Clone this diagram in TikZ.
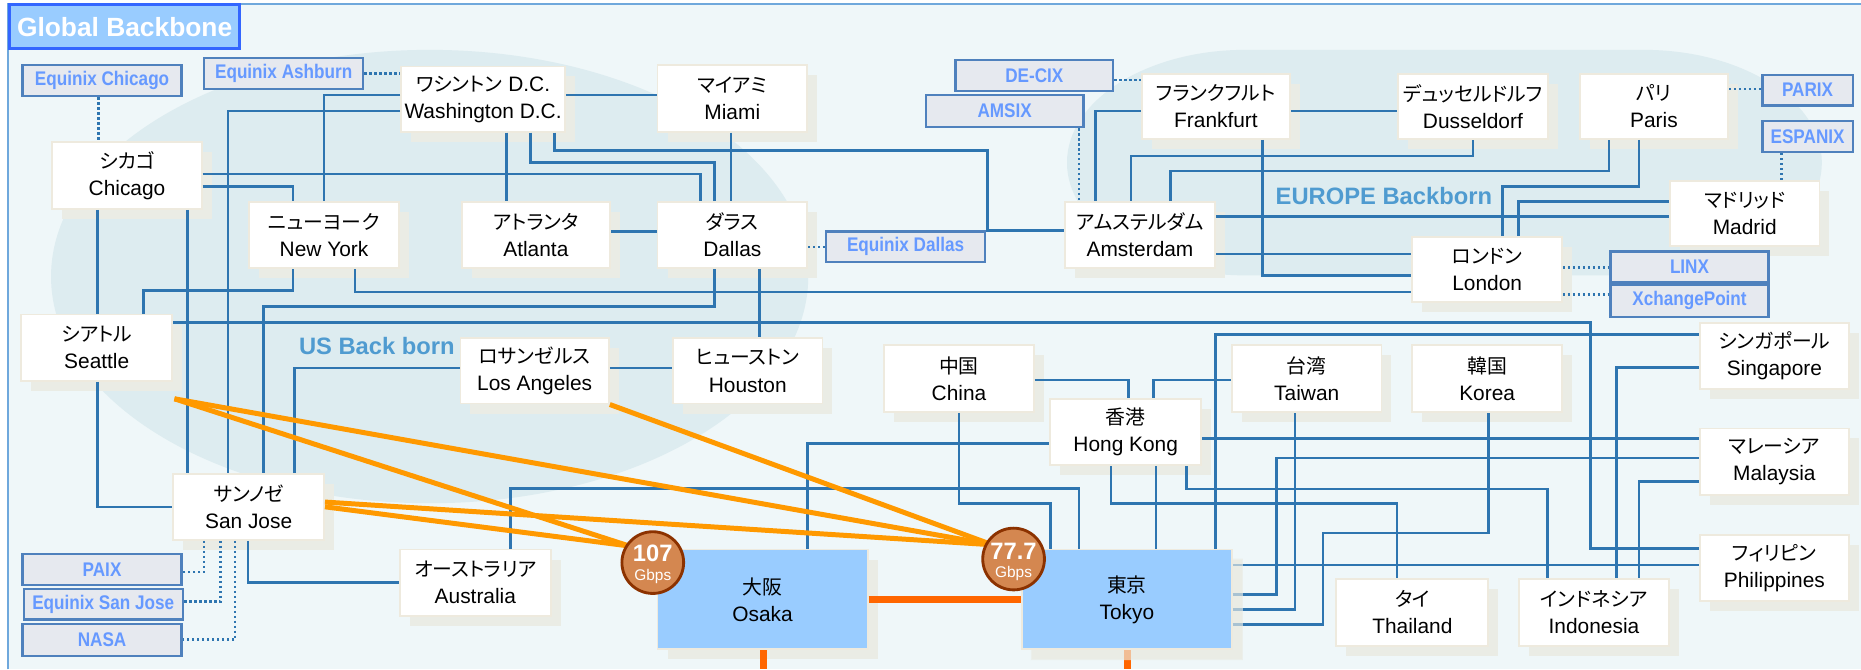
\documentclass[tikz,border=0pt]{standalone}
\usepackage{fontspec}
\setmainfont{Liberation Sans}
\newfontfamily\jpf{Noto Sans CJK JP}[RawFeature=+palt,Scale=0.95]
\newfontfamily\ixf{Liberation Sans}[FakeStretch=0.87]
\usetikzlibrary{shadows,calc}
\definecolor{bgc}{RGB}{239,247,249}
\definecolor{ellc}{RGB}{221,236,240}
\definecolor{framec}{RGB}{111,168,220}
\definecolor{linkc}{RGB}{46,117,176}
\definecolor{boxborder}{RGB}{238,234,222}
\definecolor{shadowc}{RGB}{234,236,229}
\definecolor{ixfill}{RGB}{230,233,239}
\definecolor{ixdraw}{RGB}{79,129,189}
\definecolor{ixtext}{RGB}{102,153,255}
\definecolor{titlefill}{RGB}{153,204,255}
\definecolor{titledraw}{RGB}{51,102,255}
\definecolor{jpbox}{RGB}{153,204,255}
\definecolor{orangeA}{RGB}{255,153,0}
\definecolor{orangeB}{RGB}{255,102,0}
\definecolor{badgefill}{RGB}{212,135,80}
\definecolor{badgedraw}{RGB}{140,50,0}
\definecolor{regtext}{RGB}{79,155,208}
\newcommand{\citytxt}[2]{{\jpf #1}\\#2}
\begin{document}
\begin{tikzpicture}[x=0.5pt,y=-0.5pt,
  cnode/.style={draw=boxborder,line width=0.8pt,fill=white,inner sep=0pt,align=center,
    font=\fontsize{8.8}{11.4}\selectfont,
    drop shadow={shadow xshift=4.2pt,shadow yshift=-4.2pt,fill=shadowc,draw=none,opacity=1}},
  jnode/.style={cnode,fill=jpbox},
  ixnode/.style={draw=ixdraw,fill=ixfill,line width=1pt,text=ixtext,inner sep=0pt,
    font=\ixf\bfseries\fontsize{8.3}{9}\selectfont},
  ttlnode/.style={draw=titledraw,fill=titlefill,line width=1.1pt,text=white,inner sep=0pt,
    font=\bfseries\fontsize{11.1}{13}\selectfont},
  regnode/.style={text=regtext,font=\bfseries\fontsize{10}{12}\selectfont,inner sep=0pt},
  bdg/.style={circle,draw=badgedraw,fill=badgefill,line width=1.2pt,minimum size=26pt,inner sep=0pt},
  bdgbig/.style={text=white,font=\bfseries\fontsize{10}{10}\selectfont,inner sep=0pt},
  bdgsmall/.style={text=white,font=\fontsize{6.5}{7}\selectfont,inner sep=0pt},
  bline/.style={draw=linkc,line width=1.1pt},
  dline/.style={draw=linkc,line width=1.1pt,dash pattern=on 1pt off 1.1pt},
  oline/.style={draw=orangeA,line width=2.1pt},
  othick/.style={draw=orangeB,line width=3pt}
]
\useasboundingbox (0,0) rectangle (1568,564);
% background
\fill[white] (0,0) rectangle (1568,564);
\fill[bgc] (7,3.7) rectangle (1568,564);
\fill[ellc] (362,233) ellipse [x radius=159.5pt, y radius=95.5pt];
\fill[ellc] (1049,42) -- (1385,42) arc[start angle=90,end angle=-90,x radius=75pt,y radius=47.5pt]
  -- (1049,232) arc[start angle=270,end angle=90,x radius=75pt,y radius=47.5pt] -- cycle;
\draw[framec,line width=0.9pt] (7,564) -- (7,3.7) -- (1568,3.7);
\node[regnode] (usreg) at (317.5,291.5) {US Back born};
\node[regnode] (eureg) at (1166,165) {EUROPE Backborn};
% title
\node[ttlnode,minimum width=97pt,minimum height=18.5pt] (title) at (105,22.5) {Global Backbone};
% city nodes
\node[cnode,minimum width=69pt,minimum height=27.5pt] (was) at (407,83.5) {{\jpf ワシントン} D.C.\\Washington D.C.};
\node[cnode,minimum width=63pt,minimum height=28pt] (mia) at (617,83) {\citytxt{マイアミ}{Miami}};
\node[cnode,minimum width=63pt,minimum height=28pt] (chi) at (107,148) {\citytxt{シカゴ}{Chicago}};
\node[cnode,minimum width=63pt,minimum height=28pt] (nyc) at (273,198) {\citytxt{ニューヨーク}{New York}};
\node[cnode,minimum width=62.5pt,minimum height=28pt] (atl) at (451.5,198) {\citytxt{アトランタ}{Atlanta}};
\node[cnode,minimum width=63pt,minimum height=28pt] (dal) at (617,198) {\citytxt{ダラス}{Dallas}};
\node[cnode,minimum width=63.5pt,minimum height=28pt] (sea) at (81.5,293) {\citytxt{シアトル}{Seattle}};
\node[cnode,minimum width=62.5pt,minimum height=27.5pt] (la) at (450.5,312.5) {\citytxt{ロサンゼルス}{Los Angeles}};
\node[cnode,minimum width=63pt,minimum height=27.5pt] (hou) at (630,312.5) {\citytxt{ヒューストン}{Houston}};
\node[cnode,minimum width=63.5pt,minimum height=28pt] (sj) at (209.5,427) {\citytxt{サンノゼ}{San Jose}};
\node[cnode,minimum width=63.5pt,minimum height=28pt] (aus) at (400.5,491) {\citytxt{オーストラリア}{Australia}};
\node[jnode,minimum width=88.5pt,minimum height=42pt] (osa) at (642.5,505) {\citytxt{大阪}{Osaka}};
\node[jnode,minimum width=88.5pt,minimum height=42pt] (tok) at (949.5,505) {\citytxt{東京}{Tokyo}};
\node[cnode,minimum width=63pt,minimum height=28pt] (chn) at (808,319) {\citytxt{中国}{China}};
\node[cnode,minimum width=63.5pt,minimum height=28pt] (hk) at (948.5,364) {\citytxt{香港}{Hong Kong}};
\node[cnode,minimum width=63pt,minimum height=28pt] (tw) at (1101,319) {\citytxt{台湾}{Taiwan}};
\node[cnode,minimum width=63pt,minimum height=28pt] (kr) at (1253,319) {\citytxt{韓国}{Korea}};
\node[cnode,minimum width=63pt,minimum height=28pt] (sg) at (1495,300) {\citytxt{シンガポール}{Singapore}};
\node[cnode,minimum width=63pt,minimum height=28pt] (my) at (1495,389) {\citytxt{マレーシア}{Malaysia}};
\node[cnode,minimum width=63pt,minimum height=27.5pt] (ph) at (1495,478.5) {\citytxt{フィリピン}{Philippines}};
\node[cnode,minimum width=64pt,minimum height=28pt] (th) at (1190,516) {\citytxt{タイ}{Thailand}};
\node[cnode,minimum width=63pt,minimum height=28pt] (id) at (1343,516) {\citytxt{インドネシア}{Indonesia}};
\node[cnode,minimum width=62.5pt,minimum height=27.5pt] (fra) at (1024.5,89.5) {\citytxt{フランクフルト}{Frankfurt}};
\node[cnode,minimum width=63pt,minimum height=27.5pt] (dus) at (1241,89.5) {\citytxt{デュッセルドルフ}{Dusseldorf}};
\node[cnode,minimum width=62.5pt,minimum height=27.5pt] (par) at (1393.5,89.5) {\citytxt{パリ}{Paris}};
\node[cnode,minimum width=63.5pt,minimum height=28pt] (ams) at (960.5,198) {\citytxt{アムステルダム}{Amsterdam}};
\node[cnode,minimum width=63pt,minimum height=27.5pt] (mad) at (1470,180) {\citytxt{マドリッド}{Madrid}};
\node[cnode,minimum width=63pt,minimum height=27.5pt] (lon) at (1253,227) {\citytxt{ロンドン}{London}};
% exchange labels
\node[ixnode,minimum width=67pt,minimum height=13pt] (eqc) at (86,68) {Equinix Chicago};
\node[ixnode,minimum width=67pt,minimum height=13pt] (eqa) at (239,62) {Equinix Ashburn};
\node[ixnode,minimum width=67pt,minimum height=13pt] (eqd) at (763,208) {Equinix Dallas};
\node[ixnode,minimum width=66.5pt,minimum height=13pt] (decix) at (871.5,63.5) {DE-CIX};
\node[ixnode,minimum width=66.5pt,minimum height=13.5pt] (amsix) at (846.5,93.5) {AMSIX};
\node[ixnode,minimum width=38pt,minimum height=13pt] (parix) at (1523,76) {PARIX};
\node[ixnode,minimum width=38pt,minimum height=13pt] (espanix) at (1523,115) {ESPANIX};
\node[ixnode,minimum width=66.5pt,minimum height=13pt] (linx) at (1423.5,225) {LINX};
\node[ixnode,minimum width=66.5pt,minimum height=13.5pt] (xcp) at (1423.5,253.5) {XchangePoint};
\node[ixnode,minimum width=67pt,minimum height=13pt] (paix) at (86,480) {PAIX};
\node[ixnode,minimum width=67pt,minimum height=13pt] (eqsj) at (87,509) {Equinix San Jose};
\node[ixnode,minimum width=67pt,minimum height=13.5pt] (nasa) at (86,539) {NASA};
% blue links
\draw[bline] (chi.south -| 82,0) -- (sea.north -| 82,0);
\draw[bline] (chi.south -| 158,0) -- (sj.north -| 158,0);
\draw[bline] (chi.east |- 0,157) -| (nyc.north -| 247,0);
\draw[bline] (chi.east |- 0,146.6) -| (dal.north -| 590,0);
\draw[bline] (was.west |- 0,80) -| (nyc.north -| 273,0);
\draw[bline] (was.west |- 0,93.5) -| (sj.north -| 192,0);
\draw[bline] (was.south -| 427,0) -- (atl.north -| 427,0);
\draw[bline] (was.south -| 447,0) |- (602,137) -- (dal.north -| 602,0);
\draw[bline] (was.south -| 467,0) |- (832,127) |- (ams.west |- 0,194);
\draw[bline] (was.east |- 0,80) -- (mia.west |- 0,80);
\draw[bline] (mia.south -| 616,0) -- (dal.north -| 616,0);
\draw[bline] (atl.east |- 0,195) -- (dal.west |- 0,195);
\draw[bline] (nyc.south -| 247,0) |- (121,245) -- (sea.north -| 121,0);
\draw[bline] (nyc.south -| 299,0) |- (lon.west |- 0,246);
\draw[bline] (dal.south -| 602,0) |- (222,258) -- (sj.north -| 222,0);
\draw[bline] (dal.south -| 640,0) -- (hou.north -| 640,0);
\draw[bline] (sea.east |- 0,271.6) -| (1340,462) -- (ph.west |- 0,462);
\draw[bline] (sea.south -| 82,0) |- (sj.west |- 0,427);
\draw[bline] (la.west |- 0,310) -| (sj.north -| 248,0);
\draw[bline] (la.east |- 0,310) -- (hou.west |- 0,310);
\draw[bline] (sj.south -| 209,0) |- (aus.west |- 0,490.6);
\draw[bline] (aus.north -| 430,0) |- (909,411.5) -- (tok.north -| 909,0);
\draw[bline] (osa.north -| 680.6,0) |- (hk.west |- 0,373.5);
\draw[bline] (chn.south -| 808,0) |- (885,424) -- (tok.north -| 885,0);
\draw[bline] (chn.east |- 0,320) -| (hk.north -| 951,0);
\draw[bline] (hk.north -| 972,0) |- (tw.west |- 0,320);
\draw[bline] (hk.south -| 974,0) -- (tok.north -| 974,0);
\draw[bline] (hk.south -| 936,0) |- (1177,424) -- (th.north -| 1177,0);
\draw[bline] (hk.south -| 999.6,0) |- (1304,412) -- (id.north -| 1304,0);
\draw[bline] (hk.east |- 0,369.6) -- (my.west |- 0,369.6);
\draw[bline] (tok.north -| 1024,0) |- (sg.west |- 0,282);
\draw[bline] (tok.east |- 0,501) -| (1075.6,386) -- (my.west |- 0,386);
\draw[bline] (tok.east |- 0,513.4) -| (tw.south -| 1091,0);
\draw[bline] (tok.east |- 0,526) -| (1114.6,449) -| (kr.south -| 1254,0);
\draw[bline] (tok.east |- 0,476) -- (ph.west |- 0,476);
\draw[bline] (sg.west |- 0,309.7) -| (id.north -| 1362,0);
\draw[bline] (my.west |- 0,405.8) -| (id.north -| 1381,0);
\draw[bline] (ams.north -| 923,0) |- (fra.west |- 0,93.5);
\draw[bline] (ams.north -| 953,0) |- (1241,131.5) -- (dus.south -| 1241,0);
\draw[bline] (ams.north -| 986,0) |- (1355.6,144) -- (par.south -| 1355.6,0);
\draw[bline] (ams.east |- 0,182.6) -- (mad.west |- 0,182.6);
\draw[bline] (ams.east |- 0,214) -- (lon.west |- 0,214);
\draw[bline] (fra.east |- 0,93.5) -- (dus.west |- 0,93.5);
\draw[bline] (fra.south -| 1063.6,0) |- (lon.west |- 0,232);
\draw[bline] (par.south -| 1381,0) |- (1266,157) -- (lon.north -| 1266,0);
\draw[bline] (mad.west |- 0,170) -| (lon.north -| 1279.6,0);
% dotted exchange links
\draw[dline] (eqc.south -| 83,0) -- (chi.north -| 83,0);
\draw[dline] (eqa.east |- 0,62) -- (was.west |- 0,62);
\draw[dline] (dal.east |- 0,208) -- (eqd.west |- 0,208);
\draw[dline] (decix.east |- 0,67.4) -- (fra.west |- 0,67.4);
\draw[dline] (amsix.south -| 909,0) -- (ams.north -| 909,0);
\draw[dline] (par.east |- 0,75) -- (parix.west |- 0,75);
\draw[dline] (espanix.south -| 1501,0) -- (mad.north -| 1501,0);
\draw[dline] (lon.east |- 0,225.6) -- (linx.west |- 0,225.6);
\draw[dline] (lon.east |- 0,248) -- (xcp.west |- 0,248);
\draw[dline] (sj.south -| 172,0) |- (paix.east |- 0,482);
\draw[dline] (sj.south -| 186,0) |- (eqsj.east |- 0,507);
\draw[dline] (sj.south -| 198,0) |- (nasa.east |- 0,539);
% orange trunk lines
\coordinate (seaor) at (147,336);
\coordinate (osin) at (530,460);
\coordinate (tkin) at (836,459);
\coordinate (osaout) at (643,564);
\coordinate (tokout) at (950,564);
\draw[oline] (seaor) -- (tkin);
\draw[oline] (seaor) -- (osin);
\draw[oline] (sj.east |- 0,423) -- (tkin);
\draw[oline] (sj.east |- 0,427) -- (osin);
\draw[oline] (la.south east) -- (tkin);
\draw[othick] (osa.east |- 0,505) -- (tok.west |- 0,505);
\draw[othick] (osa.south -| osaout) -- (osaout);
\draw[othick] (tok.south -| tokout) -- (tokout);
% Tokyo shadow over the lines that leave it
\fill[shadowc,opacity=0.65] ([yshift=-4.2pt]tok.north east) -- ([xshift=4.2pt,yshift=-4.2pt]tok.north east)
  -- ([xshift=4.2pt,yshift=-4.2pt]tok.south east) -- ([xshift=4.2pt,yshift=-4.2pt]tok.south west)
  -- ([xshift=4.2pt]tok.south west) -- (tok.south east) -- cycle;
% bandwidth badges
\node[bdg] (b107) at (550,474) {};
\node[bdgbig] (t107) at ([yshift=3.7pt]b107.center) {107};
\node[bdgsmall] (g107) at ([yshift=-6pt]b107.center) {Gbps};
\node[bdg] (b777) at (854,471) {};
\node[bdgbig] (t777) at ([yshift=3.4pt]b777.center) {77.7};
\node[bdgsmall] (g777) at ([yshift=-6pt]b777.center) {Gbps};
\end{tikzpicture}
\end{document}
